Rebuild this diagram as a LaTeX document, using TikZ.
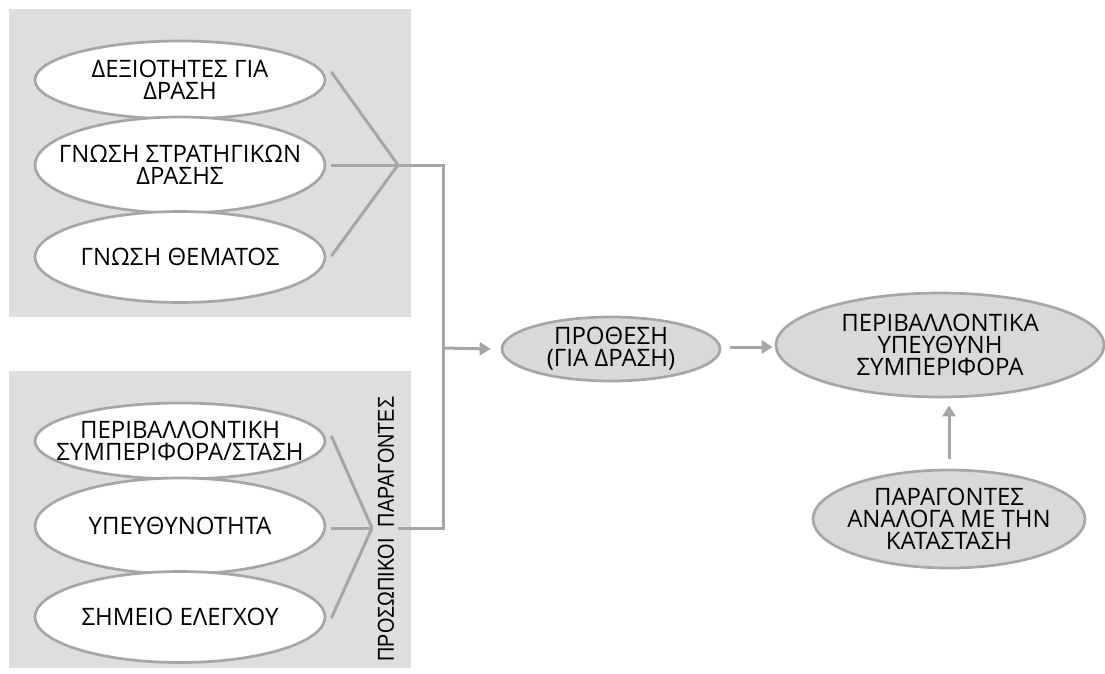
\documentclass[tikz,border=0pt]{standalone}
\usepackage{fontspec}
\setmainfont{Open Sans}
\newfontfamily\narrowfont{Liberation Sans}
\usetikzlibrary{shapes.geometric,arrows.meta,calc}
\definecolor{panel}{HTML}{DEDEDE}
\definecolor{edge}{HTML}{A6A6A6}
\definecolor{efill}{HTML}{D9D9D9}
\begin{document}
\begin{tikzpicture}[x=1pt,y=-1pt,
  ell/.style={ellipse,draw=edge,line width=2.7pt,inner sep=0pt},
  wel/.style={ell,fill=white},
  gel/.style={ell,fill=efill},
  txt/.style={inner sep=0pt,align=center,font=\fontsize{24}{22}\selectfont,text=black},
  conn/.style={draw=edge,line width=3pt},
  arr/.style={conn,-{Triangle[length=11pt,width=13pt]}}]
\useasboundingbox (0,0) rectangle (1105,673);
\fill[panel] (9,9) rectangle (411,317);
\fill[panel] (9,371) rectangle (411,668);
% top panel ellipses
\node[wel,minimum width=290pt,minimum height=78pt] (t1) at (180,80) {};
\node[txt] (t1t) at (t1) {ΔΕΞΙΟΤΗΤΕΣ ΓΙΑ\\ΔΡΑΣΗ};
\node[wel,minimum width=290pt,minimum height=96pt] (t2) at (180,165) {};
\node[txt] (t2t) at (t2) {ΓΝΩΣΗ ΣΤΡΑΤΗΓΙΚΩΝ\\ΔΡΑΣΗΣ};
\node[wel,minimum width=290pt,minimum height=91pt] (t3) at (180,257) {};
\node[txt] (t3t) at (t3) {ΓΝΩΣΗ ΘΕΜΑΤΟΣ};
% bottom panel ellipses
\node[wel,minimum width=290pt,minimum height=76pt] (b1) at (180,441) {};
\node[txt] (b1t) at (b1) {ΠΕΡΙΒΑΛΛΟΝΤΙΚΗ\\ΣΥΜΠΕΡΙΦΟΡΑ/ΣΤΑΣΗ};
\node[wel,minimum width=290pt,minimum height=96pt] (b2) at (180,526) {};
\node[txt] (b2t) at (b2) {ΥΠΕΥΘΥΝΟΤΗΤΑ};
\node[wel,minimum width=290pt,minimum height=91pt] (b3) at (180,617) {};
\node[txt] (b3t) at (b3) {ΣΗΜΕΙΟ ΕΛΕΓΧΟΥ};
\node[rotate=90,inner sep=0pt,font=\narrowfont\fontsize{23}{22}\selectfont,text=black] (pp) at (386,529)
  {\scalebox{0.86}[1]{ΠΡΟΣΩΠΙΚΟΙ\ \ ΠΑΡΑΓΟΝΤΕΣ}};
% right ellipses
\node[gel,minimum width=218pt,minimum height=64pt] (pr) at (611,349) {};
\node[txt] (prt) at (pr) {ΠΡΟΘΕΣΗ\\(ΓΙΑ ΔΡΑΣΗ)};
\node[gel,minimum width=328pt,minimum height=104pt] (be) at (940,345) {};
\node[txt] (bet) at (be) {ΠΕΡΙΒΑΛΛΟΝΤΙΚΑ\\ΥΠΕΥΘΥΝΗ\\ΣΥΜΠΕΡΙΦΟΡΑ};
\node[gel,minimum width=272pt,minimum height=98pt] (sf) at (949,519) {};
\node[txt] (sft) at (sf) {ΠΑΡΑΓΟΝΤΕΣ\\ΑΝΑΛΟΓΑ ΜΕ ΤΗΝ\\ΚΑΤΑΣΤΑΣΗ};
% junctions
\coordinate (j1) at (398,165);
\coordinate (j2) at (372,528);
\coordinate (c1) at (443,165);
\coordinate (c2) at (443,528);
\coordinate (c3) at (443,348);
\draw[conn] ($(t1.east)+(5,-8)$) -- (j1);
\draw[conn] ($(t2.east)+(5,0)$) -- (j1);
\draw[conn] ($(t3.east)+(5,-1)$) -- (j1);
\draw[conn] ($(b1.east)+(5,-5)$) -- (j2);
\draw[conn] ($(b2.east)+(5,2)$) -- (j2);
\draw[conn] ($(b3.east)+(5,1)$) -- (j2);
\draw[conn] (j1) -- (c1) -- (c2) -- ($(c2 -| pp.south)+(4,0)$);
\draw[arr] (c3) -- ($(pr.west)+(-10,0)$);
\draw[arr] ($(pr.east)+(9,-2)$) -- ($(be.west)+(-2,2)$);
\draw[arr] ($(sf.north)+(0,-10)$) -- ($(be.south)+(9,7)$);
\end{tikzpicture}
\end{document}
